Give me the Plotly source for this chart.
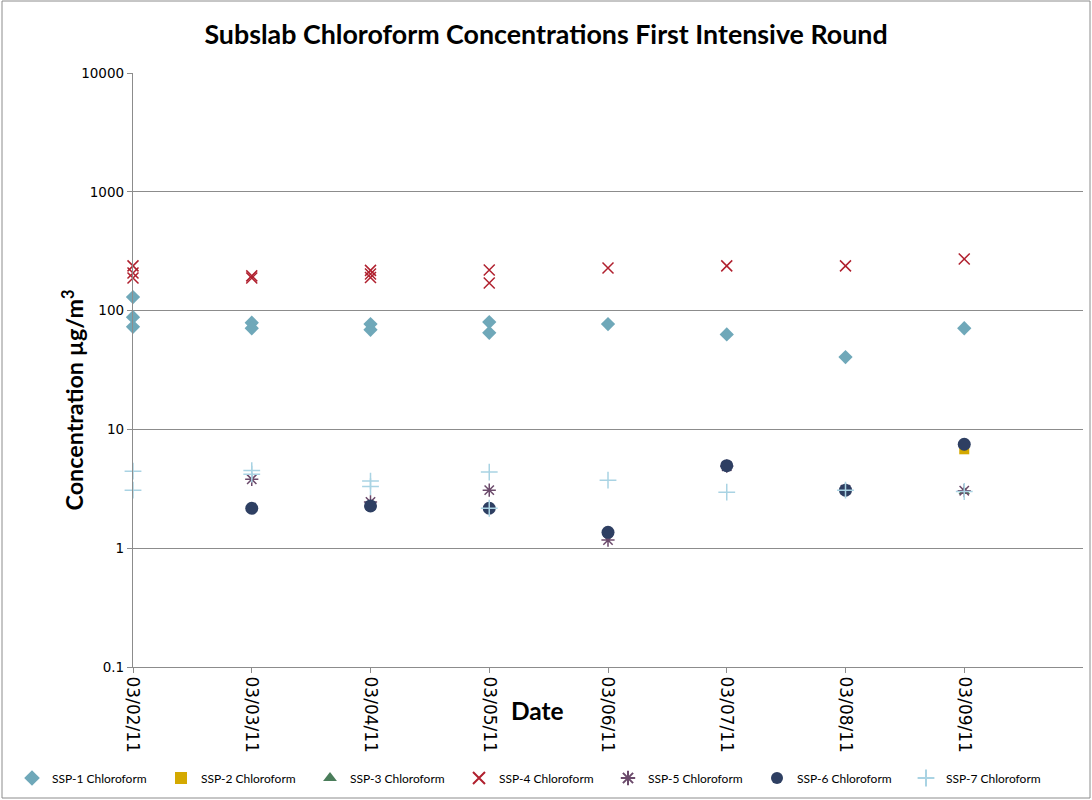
import plotly.graph_objects as go

# ── Data ──────────────────────────────────────────────────────────────────────
DATES = ["2011-03-02", "2011-03-03", "2011-03-04", "2011-03-05",
         "2011-03-06", "2011-03-07", "2011-03-08", "2011-03-09"]
TICK_TEXT = ["03/02/11", "03/03/11", "03/04/11", "03/05/11",
             "03/06/11", "03/07/11", "03/08/11", "03/09/11"]

ssp1_x = ["2011-03-02", "2011-03-02", "2011-03-02", "2011-03-03", "2011-03-03",
          "2011-03-04", "2011-03-04", "2011-03-05", "2011-03-05", "2011-03-06",
          "2011-03-07", "2011-03-08", "2011-03-09"]
ssp1_y = [130, 88, 73, 79, 71, 77, 69, 80, 65, 77, 63, 40.6, 71]

ssp2_x = ["2011-03-09"]
ssp2_y = [6.8]

ssp3_x = ["2011-03-09"]
ssp3_y = [3.0]

ssp4_x = ["2011-03-02", "2011-03-02", "2011-03-02", "2011-03-03", "2011-03-03",
          "2011-03-04", "2011-03-04", "2011-03-04", "2011-03-05", "2011-03-05",
          "2011-03-06", "2011-03-07", "2011-03-08", "2011-03-09"]
ssp4_y = [238, 207, 188, 196, 188, 218, 203, 190, 220, 171, 228, 238, 238, 272]

ssp5_x = ["2011-03-03", "2011-03-04", "2011-03-05", "2011-03-06",
          "2011-03-07", "2011-03-08", "2011-03-09"]
ssp5_y = [3.8, 2.45, 3.08, 1.17, 4.9, 3.1, 3.05]

ssp6_x = ["2011-03-03", "2011-03-04", "2011-03-05", "2011-03-06",
          "2011-03-07", "2011-03-08", "2011-03-09"]
ssp6_y = [2.17, 2.27, 2.17, 1.36, 4.95, 3.08, 7.5]

ssp7_x = ["2011-03-02", "2011-03-02", "2011-03-03", "2011-03-03", "2011-03-04",
          "2011-03-04", "2011-03-05", "2011-03-05", "2011-03-06", "2011-03-07",
          "2011-03-08", "2011-03-09"]
ssp7_y = [4.45, 3.08, 4.5, 4.2, 3.67, 3.3, 4.37, 2.17, 3.74, 2.96, 3.08, 3.0]

# ── Styling ───────────────────────────────────────────────────────────────────
FONT = "Lato"
TICK_FONT = "DejaVu Sans"
GRID = "#8c8c8c"

series = [
    ("SSP-1 Chloroform", ssp1_x, ssp1_y, "diamond", "#6fa8b9", 11, 0),
    ("SSP-2 Chloroform", ssp2_x, ssp2_y, "square", "#d4a900", 10, 0),
    ("SSP-3 Chloroform", ssp3_x, ssp3_y, "triangle-up", "#4a7d5a", 10, 0),
    ("SSP-4 Chloroform", ssp4_x, ssp4_y, "x-thin-open", "#b0202e", 11, 1.5),
    ("SSP-5 Chloroform", ssp5_x, ssp5_y, "asterisk-open", "#6b4a6b", 11, 1.5),
    ("SSP-6 Chloroform", ssp6_x, ssp6_y, "circle", "#2e3f62", 13, 0),
    ("SSP-7 Chloroform", ssp7_x, ssp7_y, "cross-thin-open", "#a9d3e3", 12, 1.5),
]

fig = go.Figure()
for name, xs, ys, sym, col, size, lw in series:
    fig.add_trace(go.Scatter(
        x=xs, y=ys, mode="markers", name=name, cliponaxis=False,
        marker=dict(symbol=sym, color=col, size=size,
                    line=dict(color=col, width=lw)),
    ))

fig.update_layout(
    width=1092, height=800,
    paper_bgcolor="white", plot_bgcolor="white",
    font=dict(family=FONT, color="black"),
    margin=dict(l=133, r=9, t=73, b=133, autoexpand=False),
    title=dict(text="<b>Subslab Chloroform Concentrations First Intensive Round</b>",
               x=0.5, xanchor="center", y=1 - 35 / 800, yanchor="middle",
               font=dict(size=26.8, family=FONT)),
    showlegend=True,
    # left of the plot area so the single legend row may use the full width
    legend=dict(orientation="h", xref="paper", x=(12 - 133) / 950, xanchor="left",
                y=-(778 - 667) / 594, yanchor="middle",
                font=dict(size=12, family=FONT), itemwidth=30,
                entrywidth=104, entrywidthmode="pixels",
                tracegroupgap=0, itemsizing="constant"),
    xaxis=dict(
        type="date", automargin=False,
        range=["2011-03-02", "2011-03-10"],
        tickvals=DATES, ticktext=TICK_TEXT, tickangle=90,
        tickfont=dict(size=17, family=TICK_FONT),
        showgrid=False, showline=True, linecolor=GRID, linewidth=1.3,
        ticks="outside", ticklen=5, tickcolor=GRID,
        zeroline=False,
    ),
    yaxis=dict(
        type="log", range=[-1, 4], automargin=False,
        tickvals=[0.1, 1, 10, 100, 1000, 10000],
        ticktext=["0.1", "1", "10", "100", "1000", "10000"],
        tickfont=dict(size=13.5, family=TICK_FONT),
        showgrid=True, gridcolor=GRID, gridwidth=1,
        showline=True, linecolor=GRID, linewidth=1.3,
        ticks="outside", ticklen=5, tickcolor=GRID,
    ),
)

# axis titles placed as in the reference
fig.add_annotation(text="<b>Concentration µg/m<sup>3</sup></b>", textangle=-90,
                   xref="paper", yref="paper",
                   x=(55 - 133) / 950, y=(667 - 400) / 594,
                   showarrow=False, font=dict(size=23.3, family=FONT))
fig.add_annotation(text="<b>Date</b>", xref="paper", yref="paper",
                   x=(537 - 133) / 950, y=-(727 - 667) / 594,
                   showarrow=False, font=dict(size=24.5, family=FONT))

# chart-area border
fig.add_shape(type="rect", xref="paper", yref="paper",
              x0=-131 / 950, x1=(1090 - 133) / 950,
              y0=-(798 - 667) / 594, y1=(667 - 1) / 594,
              line=dict(color="#8c8c8c", width=1), layer="below")

# drop the page's default body margin so the figure sits at the top-left
fig.write_html("out.html", config={"displayModeBar": False},
               post_script="document.body.style.margin='0';")
